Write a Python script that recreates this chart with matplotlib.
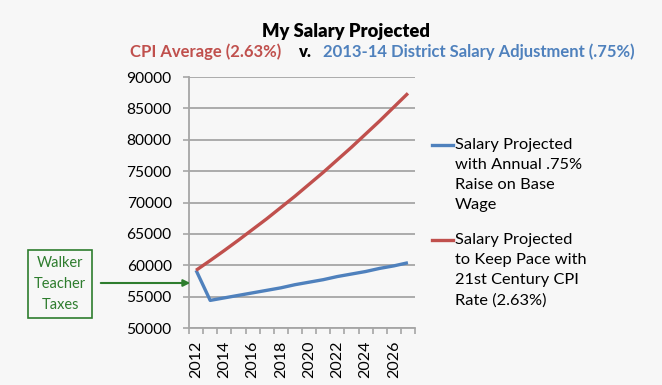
import matplotlib
matplotlib.use("Agg")
import matplotlib.pyplot as plt
import numpy as np

years = list(range(2012, 2028))
salary_075 = [59200, 54400, 54800, 55200, 55600, 56000, 56400, 56900, 57300, 57700,
              58200, 58600, 59000, 59500, 59900, 60400]
salary_cpi = [59200, 60750, 62350, 64000, 65700, 67400, 69200, 71000, 72900, 74800,
              76800, 78800, 80900, 83000, 85200, 87400]
yticks = list(range(50000, 90001, 5000))
xlabels = [str(y) for y in years[::2]]

legend_075 = "Salary Projected\nwith Annual .75%\nRaise on Base\nWage"
legend_cpi = "Salary Projected\nto Keep Pace with\n21st Century CPI\nRate (2.63%)"

BLUE = "#4f81bd"
RED = "#c0504d"
BG = "#f7f7f7"
GRID = "#a6a6a6"
GREEN = "#2e7d2e"
FONT = "Lato"

plt.rcParams['font.family'] = [FONT, 'DejaVu Sans']

fig = plt.figure(figsize=(6.62, 3.85), dpi=100, facecolor=BG)
ax = fig.add_axes([189/662, 1-328/385, (415-189)/662, (328-77)/385])
ax.set_facecolor(BG)

x = np.arange(len(years))
ax.plot(x, salary_075, color=BLUE, lw=2.4, solid_capstyle='butt')
ax.plot(x, salary_cpi, color=RED, lw=2.4, solid_capstyle='butt')

ax.set_xlim(-0.5, len(years) - 0.5)
ax.set_ylim(50000, 90000)
ax.set_yticks(yticks)
ax.set_yticklabels([str(v) for v in yticks], fontsize=11.2)
ax.yaxis.grid(True, color=GRID, lw=1.3)
ax.set_axisbelow(True)

ax.set_xticks(x[::2])
ax.set_xticklabels(xlabels, rotation=90, fontsize=11.5)
ax.set_xticks(np.arange(-0.5, len(years)), minor=True)
ax.tick_params(axis='x', which='major', length=0, pad=9)
ax.tick_params(axis='x', which='minor', length=4.5, color=GRID, width=1.2)
ax.tick_params(axis='y', length=4.5, color=GRID, width=1.2, pad=8)

for s in ['top', 'right']:
    ax.spines[s].set_visible(False)
for s in ['left', 'bottom']:
    ax.spines[s].set_color(GRID)
    ax.spines[s].set_linewidth(1.3)

# Title
fig.text(346/662, 1-31/385, "My Salary Projected", ha='center', va='center',
         fontsize=13.2, fontweight='heavy', color='black')
fig.text(130/662, 1-52/385, "CPI Average (2.63%)", ha='left', va='center',
         fontsize=12, fontweight='bold', color=RED)
fig.text(298/662, 1-52/385, "v.", ha='left', va='center',
         fontsize=12, fontweight='heavy', color='black')
fig.text(323/662, 1-52/385, "2013-14 District Salary Adjustment (.75%)", ha='left',
         va='center', fontsize=12, fontweight='bold', color=BLUE)

# Legend
def legend_entry(y_px, color, text):
    fig.add_artist(plt.Line2D([432/662, 453/662], [1-y_px/385, 1-y_px/385],
                              color=color, lw=2.4, transform=fig.transFigure))
    fig.text(455/662, 1-(y_px-7)/385, text, ha='left', va='top',
             fontsize=11.8, color='black', linespacing=1.55)

legend_entry(145, BLUE, legend_075)
legend_entry(240, RED, legend_cpi)

# Annotation box
fig.text(60/662, 1-284/385, "Walker\nTeacher\nTaxes", ha='center', va='center',
         fontsize=10.5, color=GREEN, linespacing=1.6,
         bbox=dict(boxstyle='square,pad=0.42', fc=BG, ec=GREEN, lw=1.2))
fig.add_artist(matplotlib.patches.FancyArrowPatch(
    (98/662, 1-283/385), (193/662, 1-283/385), transform=fig.transFigure,
    arrowstyle='-|>', mutation_scale=10, color=GREEN, lw=1.5))

fig.savefig("out.png", dpi=100, facecolor=BG)
